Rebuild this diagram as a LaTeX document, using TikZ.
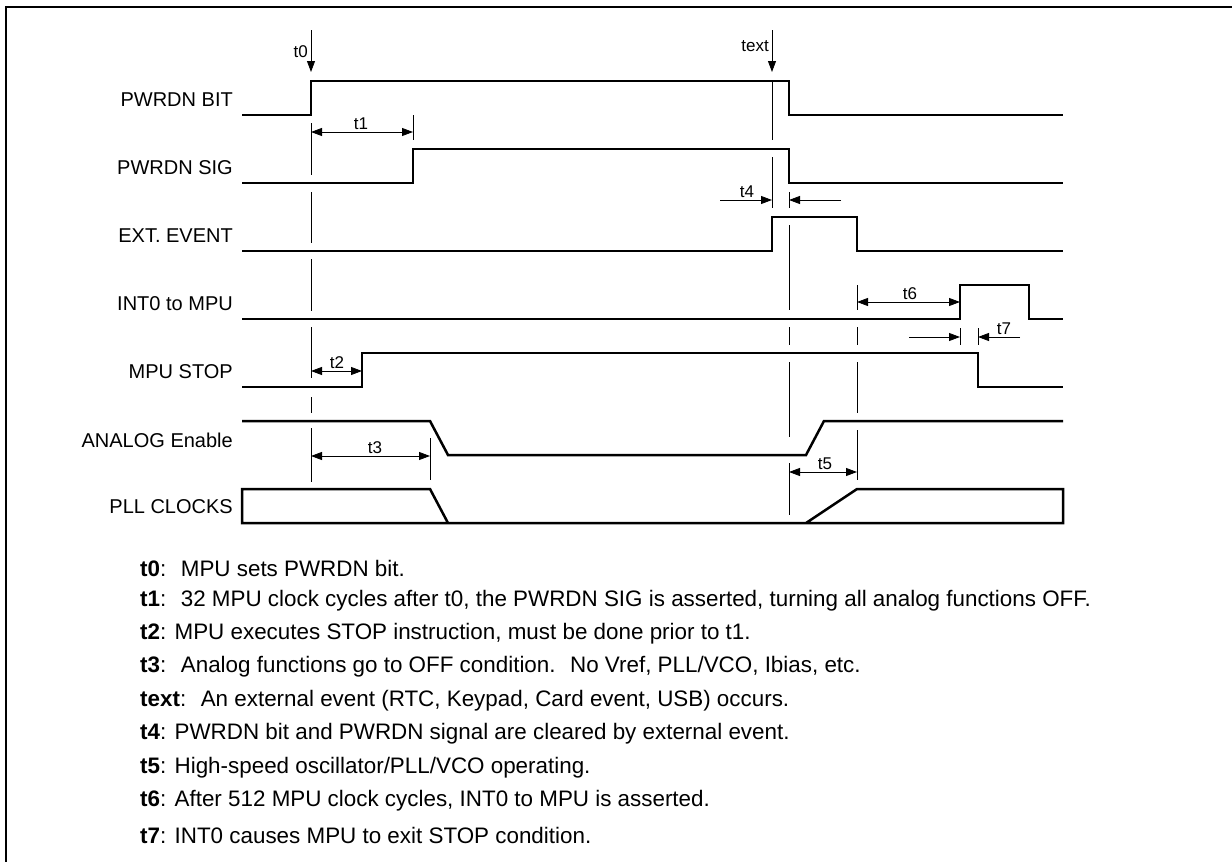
\documentclass[tikz,border=0pt]{standalone}
\usepackage{fontspec}
\setmainfont{Liberation Sans}
\usepackage{xcolor}
\usepackage{tikz}
\usetikzlibrary{arrows.meta}

\tikzset{
	sig/.style={line width=2.5pt, line join=miter},
	guide/.style={line width=0.8pt},
	dim/.style={line width=0.8pt, {Triangle[length=11pt,width=8pt]}-{Triangle[length=11pt,width=8pt]}},
	dimin/.style={line width=0.8pt, -{Triangle[length=11pt,width=8pt]}},
	siglabel/.style={anchor=east, inner sep=0pt, font=\fontsize{20}{20}\selectfont},
	tlabel/.style={inner sep=0pt, font=\fontsize{17}{17}\selectfont},
	note/.style={anchor=west, inner sep=0pt, font=\fontsize{22.4}{22.4}\selectfont}
}

\begin{document}
\begin{tikzpicture}[x=1pt, y=-1pt]
			\useasboundingbox (0,0) rectangle (1232,862);
			% frame
			\draw[line width=2.5pt] (6,862) -- (6,7) -- (1232,7);
			
			% signal names
			\node[siglabel] (lblBit) at (233,100) {PWRDN BIT};
			\node[siglabel] (lblSig) at (233,168) {PWRDN SIG};
			\node[siglabel] (lblExt) at (233,236) {EXT. EVENT};
			\node[siglabel] (lblInt) at (233,304) {INT0 to MPU};
			\node[siglabel] (lblStop) at (233,372) {MPU STOP};
			\node[siglabel] (lblAna) at (233,440) {ANALOG Enable};
			\node[siglabel] (lblPll) at (233,507) {PLL CLOCKS};
			
			% waveforms
			\draw[sig] (242,115) -- (311,115) -- (311,81) -- (789,81) -- (789,115) -- (1063,115);
			\draw[sig] (242,183) -- (413,183) -- (413,149) -- (789,149) -- (789,183) -- (1063,183);
			\draw[sig] (242,251) -- (772,251) -- (772,217) -- (857,217) -- (857,251) -- (1063,251);
			\draw[sig] (242,319) -- (960,319) -- (960,285) -- (1029,285) -- (1029,319) -- (1063,319);
			\draw[sig] (242,387) -- (362,387) -- (362,353) -- (978,353) -- (978,387) -- (1063,387);
			\draw[sig] (242,421) -- (430,421) -- (448,455) -- (806,455) -- (824,421) -- (1063,421);
			\draw[sig] (448,523) -- (430,489) -- (242,489) -- (242,523) -- (1063,523) -- (1063,489) -- (857,489) -- (806,523);
			
			% event markers
			\draw[dimin] (311,30) -- (311,72);
			\node[tlabel, anchor=east] (lblT0) at (308,52) {t0};
			\draw[dimin] (772,30) -- (772,72);
			\node[tlabel, anchor=east] (lblText) at (769,46) {text};
			
			% reference lines
			\foreach \ya/\yb in {123/175, 192/243, 259/311, 327/378, 397/413, 428/482}
				\draw[guide] (311,\ya) -- (311,\yb);
			\foreach \ya/\yb in {81/140, 157/208}
				\draw[guide] (772,\ya) -- (772,\yb);
			\foreach \ya/\yb in {192/208, 225/310, 327/345, 362/437, 463/515}
				\draw[guide] (789,\ya) -- (789,\yb);
			\foreach \ya/\yb in {285/310, 327/345, 362/413, 430/480}
				\draw[guide] (857,\ya) -- (857,\yb);
			\draw[guide] (413,115) -- (413,140);
			\draw[guide] (430,438) -- (430,480);
			\draw[guide] (960,328) -- (960,345);
			\draw[guide] (978,328) -- (978,345);
			
			% intervals
			\draw[dim] (311,132) -- (413,132);
			\node[tlabel] (lblT1) at (361,124) {t1};
			\draw[dim] (311,371) -- (362,371);
			\node[tlabel] (lblT2) at (337,363) {t2};
			\draw[dim] (311,456) -- (430,456);
			\node[tlabel] (lblT3) at (375,448) {t3};
			\draw[dimin] (720,200) -- (772,200);
			\draw[dimin] (841,200) -- (789,200);
			\node[tlabel] (lblT4) at (747,192) {t4};
			\draw[dim] (789,472) -- (857,472);
			\node[tlabel] (lblT5) at (825,464) {t5};
			\draw[dim] (857,302) -- (960,302);
			\node[tlabel] (lblT6) at (910,294) {t6};
			\draw[dimin] (909,337) -- (960,337);
			\draw[dimin] (1020,337) -- (978,337);
			\node[tlabel] (lblT7) at (1004,329) {t7};
			
			% notes
			\node[note] (noteT0) at (140,568) {\textbf{t0}:~ MPU sets PWRDN bit.};
			\node[note] (noteT1) at (140,601) {\textbf{t1}:~ 32 MPU clock cycles after t0, the PWRDN SIG is asserted, turning all analog functions OFF.};
			\node[note] (noteT2) at (140,634) {\textbf{t2}: MPU executes STOP instruction, must be done prior to t1.};
			\node[note] (noteT3) at (140,667) {\textbf{t3}:~ Analog functions go to OFF condition.~ No Vref, PLL/VCO, Ibias, etc.};
			\node[note] (noteText) at (140,701) {\textbf{text}:~ An external event (RTC, Keypad, Card event, USB) occurs.};
			\node[note] (noteT4) at (140,734) {\textbf{t4}: PWRDN bit and PWRDN signal are cleared by external event.};
			\node[note] (noteT5) at (140,768) {\textbf{t5}: High-speed oscillator/PLL/VCO operating.};
			\node[note] (noteT6) at (140,801) {\textbf{t6}: After 512 MPU clock cycles, INT0 to MPU is asserted.};
			\node[note] (noteT7) at (140,835) {\textbf{t7}: INT0 causes MPU to exit STOP condition.};
		\end{tikzpicture}
\end{document}
